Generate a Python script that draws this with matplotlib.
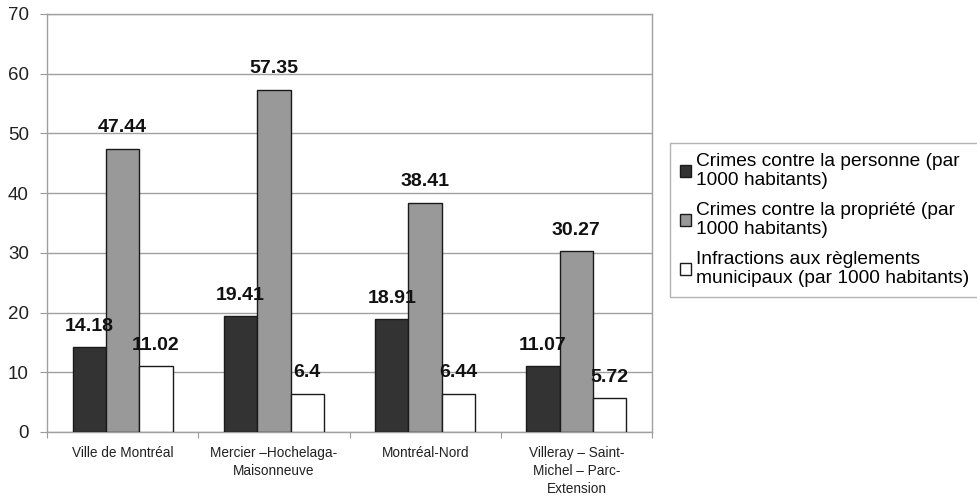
import matplotlib
matplotlib.use("Agg")
import matplotlib.pyplot as plt
import numpy as np

plt.rcParams['font.family'] = ['Liberation Sans', 'DejaVu Sans']

categories = ["Ville de Montréal", "Mercier –Hochelaga-\nMaisonneuve",
              "Montréal-Nord", "Villeray – Saint-\nMichel – Parc-\nExtension"]
series_names = ["Crimes contre la personne (par\n1000 habitants)",
                "Crimes contre la propriété (par\n1000 habitants)",
                "Infractions aux règlements\nmunicipaux (par 1000 habitants)"]
personne = [14.18, 19.41, 18.91, 11.07]
propriete = [47.44, 57.35, 38.41, 30.27]
infractions = [11.02, 6.4, 6.44, 5.72]
value_labels = [["14.18", "19.41", "18.91", "11.07"],
                ["47.44", "57.35", "38.41", "30.27"],
                ["11.02", "6.4", "6.44", "5.72"]]
yticks = [0, 10, 20, 30, 40, 50, 60, 70]

colors = ["#333333", "#999999", "#ffffff"]

fig = plt.figure(figsize=(9.77, 4.96), dpi=100)
ax = fig.add_axes([47/977, 1 - 432/496, (652-47)/977, (432-14)/496])

x = np.arange(len(categories))
width = 0.22
for i, (vals, name) in enumerate(zip([personne, propriete, infractions], series_names)):
    pos = x + (i - 1) * width
    ax.bar(pos, vals, width, color=colors[i], edgecolor="#1a1a1a", linewidth=1.0,
           label=name, zorder=3)
    for px, v, t in zip(pos, vals, value_labels[i]):
        ax.annotate(t, (px, v), xytext=(0, 15), textcoords="offset points",
                    ha="center", va="center", fontsize=14, fontweight="bold",
                    color="#111111", zorder=5)

ax.set_xlim(-0.5, len(categories) - 0.5)
ax.set_ylim(0, 70)
ax.set_yticks(yticks)
ax.set_yticklabels([str(t) for t in yticks], fontsize=13.5, color="#222222")
ax.yaxis.grid(True, color="#a0a0a0", linewidth=1.0, zorder=0)

# category ticks sit between groups, labels at group centres
ax.set_xticks(np.arange(-0.5, len(categories), 1.0))
ax.set_xticklabels([])
ax.set_xticks(x, minor=True)
ax.set_xticklabels(categories, minor=True, fontsize=9.8, color="#222222", linespacing=1.35)
ax.tick_params(axis="x", which="minor", length=0, pad=10)
ax.tick_params(axis="x", which="major", length=4, color="#999999", direction="out")
ax.tick_params(axis="y", length=5, color="#999999", pad=8)

for s in ax.spines.values():
    s.set_color("#a0a0a0")
    s.set_linewidth(1.0)

leg = fig.legend(loc="upper left", bbox_to_anchor=(670/977, 1 - 143/496),
                 fontsize=13.8, frameon=True, fancybox=False, edgecolor="#a0a0a0",
                 handlelength=0.6, handleheight=0.6, handletextpad=0.25,
                 borderpad=0.5, labelspacing=0.65, borderaxespad=0)
leg.get_frame().set_linewidth(1.0)
for h in leg.legend_handles:
    h.set_edgecolor("#1a1a1a")

fig.savefig("out.png", dpi=100)
